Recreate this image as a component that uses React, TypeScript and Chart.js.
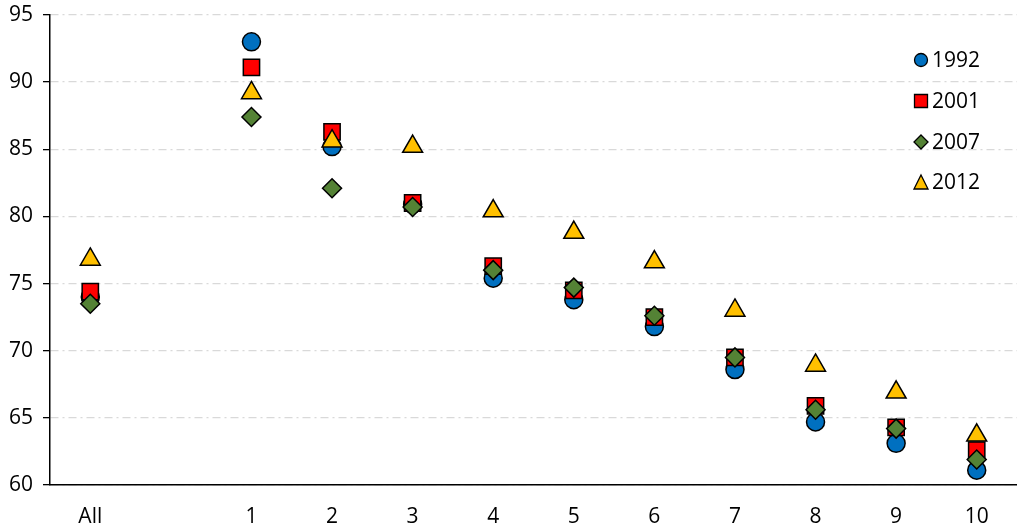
import React, { useEffect, useRef } from 'react';
import { Chart, registerables } from 'chart.js';

Chart.register(...registerables);

const categories = ['All', '', '1', '2', '3', '4', '5', '6', '7', '8', '9', '10'];
const seriesNames = ['1992', '2001', '2007', '2012'];
const values1992 = [74.0, null, 93.0, 85.2, 80.9, 75.4, 73.8, 71.8, 68.6, 64.7, 63.1, 61.1];
const values2001 = [74.4, null, 91.1, 86.3, 81.0, 76.3, 74.5, 72.5, 69.5, 65.9, 64.3, 62.6];
const values2007 = [73.5, null, 87.4, 82.1, 80.7, 76.0, 74.7, 72.6, 69.5, 65.6, 64.2, 61.9];
const values2012 = [76.8, null, 89.2, 85.6, 85.2, 80.4, 78.8, 76.6, 73.0, 68.9, 66.9, 63.7];
const yMin = 60;
const yMax = 95;
const yStep = 5;

const FONT = "'Open Sans', sans-serif";
const FONT_SIZE = 21;
const COLORS = ['#0070C0', '#FF0000', '#548235', '#FFC000'];
const STYLES = ['circle', 'rect', 'rectRot', 'triangle'];
const RADII = [9, 11.5, 9.5, 11.5];

function drawMarker(ctx: CanvasRenderingContext2D, style: string, x: number, y: number, s: number) {
  ctx.beginPath();
  if (style === 'circle') {
    ctx.arc(x, y, s * 0.5, 0, Math.PI * 2);
  } else if (style === 'rect') {
    ctx.rect(x - s / 2, y - s / 2, s, s);
  } else if (style === 'rectRot') {
    ctx.moveTo(x, y - s / 2);
    ctx.lineTo(x + s / 2, y);
    ctx.lineTo(x, y + s / 2);
    ctx.lineTo(x - s / 2, y);
    ctx.closePath();
  } else {
    ctx.moveTo(x, y - s / 2);
    ctx.lineTo(x + s / 2, y + s / 2);
    ctx.lineTo(x - s / 2, y + s / 2);
    ctx.closePath();
  }
  ctx.fill();
  ctx.stroke();
}

const legendPlugin = {
  id: 'insideLegend',
  afterDraw(chart: any) {
    const ctx = chart.ctx as CanvasRenderingContext2D;
    ctx.save();
    const x0 = 921;
    const ys = [60, 101, 142, 182];
    const sizes = [13, 13, 14, 14];
    seriesNames.forEach((name, i) => {
      ctx.fillStyle = COLORS[i];
      ctx.strokeStyle = '#000';
      ctx.lineWidth = 1.3;
      drawMarker(ctx, STYLES[i], x0, ys[i], sizes[i]);
      ctx.fillStyle = '#000';
      ctx.font = `${FONT_SIZE}px ${FONT}`;
      ctx.textAlign = 'left';
      ctx.textBaseline = 'middle';
      ctx.fillText(name, 932, ys[i] + 1);
    });
    ctx.restore();
  },
};

export default function App() {
  const ref = useRef<HTMLCanvasElement>(null);

  useEffect(() => {
    if (!ref.current) return;
    const series = [values1992, values2001, values2007, values2012];
    const chart = new Chart(ref.current, {
      type: 'line',
      data: {
        labels: categories,
        datasets: series.map((data, i) => ({
          label: seriesNames[i],
          data,
          showLine: false,
          clip: false as any,
          pointStyle: STYLES[i] as any,
          pointRadius: RADII[i],
          pointHoverRadius: RADII[i],
          pointBackgroundColor: COLORS[i],
          pointBorderColor: '#000',
          pointBorderWidth: 1.5,
          backgroundColor: COLORS[i],
          borderColor: '#000',
          order: 4 - i,
        })),
      },
      options: {
        responsive: false,
        animation: false,
        devicePixelRatio: 1,
        layout: { autoPadding: false, padding: { top: 15, right: 0, left: 0, bottom: 0 } },
        plugins: {
          legend: { display: false },
          tooltip: { enabled: false },
        },
        scales: {
          x: {
            type: 'category',
            offset: true,
            grid: { display: true, drawOnChartArea: false, drawTicks: false },
            border: { display: true, color: '#000', width: 1.5 },
            ticks: { color: '#000', font: { family: FONT, size: FONT_SIZE }, padding: 19, maxRotation: 0, autoSkip: false },
            afterFit: (scale: any) => {
              scale.height = 43;
              scale.paddingLeft = 0;
              scale.paddingRight = 0;
            },
          },
          y: {
            min: yMin,
            max: yMax,
            ticks: { stepSize: yStep, color: '#000', font: { family: FONT, size: FONT_SIZE }, padding: 10 },
            grid: {
              color: '#D9D9D9',
              lineWidth: 1.3,
              tickColor: '#000',
              tickBorderDash: [],
              tickLength: 7,
              tickWidth: 1.3,
            },
            border: { display: true, color: '#000', width: 1.5, dash: [8, 4, 2, 4] },
            afterFit: (scale: any) => {
              scale.width = 50;
              scale.paddingTop = 0;
              scale.paddingBottom = 0;
            },
          },
        },
      },
      plugins: [legendPlugin],
    });
    return () => chart.destroy();
  }, []);

  return (
    <div style={{ position: 'fixed', left: 0, top: 0, width: 1017, height: 528, background: '#fff' }}>
      <canvas ref={ref} width={1017} height={528} style={{ width: 1017, height: 528 }} />
    </div>
  );
}
